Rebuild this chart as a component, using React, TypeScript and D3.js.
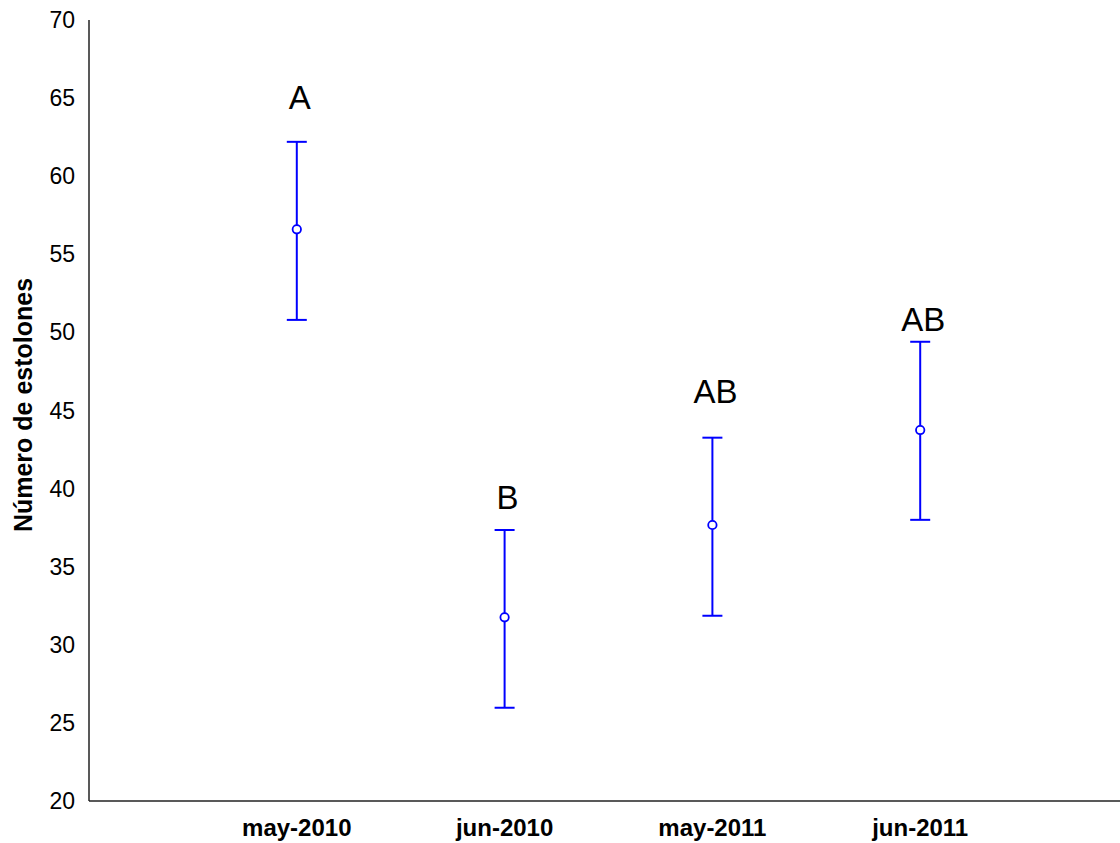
import { useEffect, useRef } from "react";
import * as d3 from "d3";

const categories = ["may-2010", "jun-2010", "may-2011", "jun-2011"];
const means = [56.6, 31.76, 37.67, 43.75];
const upper = [62.2, 37.35, 43.26, 49.4];
const lower = [50.8, 25.97, 31.86, 38.0];
const groupLetters = ["A", "B", "AB", "AB"];
const letterLevels = [64.3, 38.7, 45.5, 50.1];
const yTicks = [20, 25, 30, 35, 40, 45, 50, 55, 60, 65, 70];

const WIDTH = 1120;
const HEIGHT = 843;
const FONT = "'Liberation Sans', Arial, sans-serif";

const App = () => {
  const svgRef = useRef<SVGSVGElement>(null);

  useEffect(() => {
    document.body.style.margin = "0";
    const svg = d3.select(svgRef.current);
    svg.selectAll("*").remove();

    const axisX = 89;
    const axisTop = 20;
    const axisBottom = 801;

    const xScale = d3
      .scalePoint<string>()
      .domain(categories)
      .range([axisX, 1128])
      .padding(1);

    const yScale = d3.scaleLinear().domain([20, 70]).range([axisBottom, axisTop]);

    // axes lines (no tick marks)
    svg
      .append("line")
      .attr("x1", axisX)
      .attr("x2", axisX)
      .attr("y1", axisTop)
      .attr("y2", axisBottom)
      .attr("stroke", "#222")
      .attr("stroke-width", 1.5);

    svg
      .append("line")
      .attr("x1", axisX)
      .attr("x2", WIDTH)
      .attr("y1", axisBottom)
      .attr("y2", axisBottom)
      .attr("stroke", "#222")
      .attr("stroke-width", 1.5);

    svg
      .selectAll(".ytick")
      .data(yTicks)
      .enter()
      .append("text")
      .attr("class", "ytick")
      .attr("x", 75)
      .attr("y", (d) => yScale(d))
      .attr("dy", "0.35em")
      .attr("text-anchor", "end")
      .attr("font-family", FONT)
      .attr("font-size", "23px")
      .attr("fill", "#000")
      .text((d) => d);

    svg
      .selectAll(".xtick")
      .data(categories)
      .enter()
      .append("text")
      .attr("class", "xtick")
      .attr("x", (d) => xScale(d)!)
      .attr("y", 836)
      .attr("text-anchor", "middle")
      .attr("font-family", FONT)
      .attr("font-size", "24px")
      .attr("font-weight", "bold")
      .attr("fill", "#000")
      .text((d) => d);

    svg
      .append("text")
      .attr("transform", "translate(31.5,405) rotate(-90)")
      .attr("text-anchor", "middle")
      .attr("font-family", FONT)
      .attr("font-size", "25px")
      .attr("font-weight", "bold")
      .attr("fill", "#000")
      .text("Número de estolones");

    const g = svg.append("g");
    const blue = "#0000ff";
    const cap = 10;

    categories.forEach((c, i) => {
      const x = xScale(c)!;
      g.append("line")
        .attr("x1", x)
        .attr("x2", x)
        .attr("y1", yScale(upper[i]))
        .attr("y2", yScale(lower[i]))
        .attr("stroke", blue)
        .attr("stroke-width", 2);
      [upper[i], lower[i]].forEach((v) => {
        g.append("line")
          .attr("x1", x - cap)
          .attr("x2", x + cap)
          .attr("y1", yScale(v))
          .attr("y2", yScale(v))
          .attr("stroke", blue)
          .attr("stroke-width", 2);
      });
      g.append("circle")
        .attr("cx", x)
        .attr("cy", yScale(means[i]))
        .attr("r", 4.2)
        .attr("fill", "#fff")
        .attr("stroke", blue)
        .attr("stroke-width", 1.8);
      g.append("text")
        .attr("x", x + 3)
        .attr("y", yScale(letterLevels[i]))
        .attr("text-anchor", "middle")
        .attr("font-family", FONT)
        .attr("font-size", "33px")
        .attr("fill", "#000")
        .text(groupLetters[i]);
    });
  }, []);

  return (
    <svg
      ref={svgRef}
      width={WIDTH}
      height={HEIGHT}
      style={{ display: "block", position: "absolute", left: 0, top: 0, background: "#fff" }}
    ></svg>
  );
};

export default App;
